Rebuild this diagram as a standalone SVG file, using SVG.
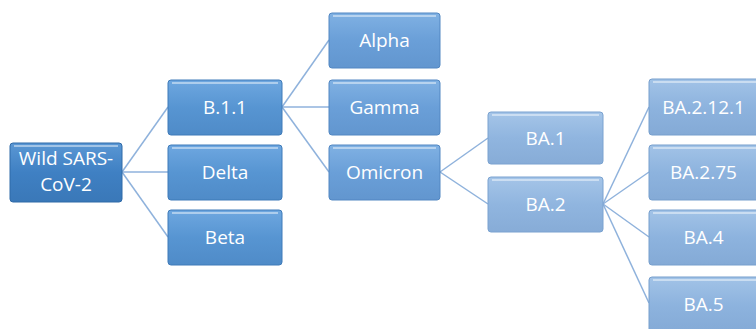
<svg xmlns="http://www.w3.org/2000/svg" width="756" height="329" viewBox="0 0 756 329">
<defs>
<linearGradient id="g0" x1="0" y1="0" x2="0" y2="1"><stop offset="0" stop-color="#5a97d4"/><stop offset="0.5" stop-color="#3f80c3"/><stop offset="1" stop-color="#3a78b8"/></linearGradient>
<linearGradient id="g1" x1="0" y1="0" x2="0" y2="1"><stop offset="0" stop-color="#6ea7e0"/><stop offset="0.5" stop-color="#5795d2"/><stop offset="1" stop-color="#4f8bc8"/></linearGradient>
<linearGradient id="g2" x1="0" y1="0" x2="0" y2="1"><stop offset="0" stop-color="#80b1e3"/><stop offset="0.5" stop-color="#6a9fd8"/><stop offset="1" stop-color="#6296cf"/></linearGradient>
<linearGradient id="g3" x1="0" y1="0" x2="0" y2="1"><stop offset="0" stop-color="#a5c5e8"/><stop offset="0.5" stop-color="#90b5df"/><stop offset="1" stop-color="#87acd7"/></linearGradient>
<linearGradient id="g4" x1="0" y1="0" x2="0" y2="1"><stop offset="0" stop-color="#a2c3e7"/><stop offset="0.5" stop-color="#8db3de"/><stop offset="1" stop-color="#84aad6"/></linearGradient>
</defs>
<style>
.box{stroke-width:1;rx:3;ry:3}
.b0{fill:url(#g0);stroke:#2f6aa8}
.b1{fill:url(#g1);stroke:#3f7bb9}
.b2{fill:url(#g2);stroke:#5287c2}
.b3{fill:url(#g3);stroke:#7aa2d0}
.b4{fill:url(#g4);stroke:#779fcd}
.hl{stroke:#ffffff;stroke-opacity:0.6;stroke-width:1.5;fill:none}
.t{font-family:"Open Sans","Liberation Sans",sans-serif;font-size:19px;fill:#ffffff;text-anchor:middle}
.c{stroke:#8fb2dc;stroke-width:1.5;fill:none}
</style>
<g id="connectors">
<line class="c" x1="122" y1="172" x2="168" y2="107"/>
<line class="c" x1="122" y1="172" x2="168" y2="172"/>
<line class="c" x1="122" y1="172" x2="168" y2="237"/>
<line class="c" x1="282" y1="107" x2="329" y2="40"/>
<line class="c" x1="282" y1="107" x2="329" y2="107"/>
<line class="c" x1="282" y1="107" x2="329" y2="172"/>
<line class="c" x1="440" y1="172" x2="488" y2="138"/>
<line class="c" x1="440" y1="172" x2="488" y2="204"/>
<line class="c" x1="603" y1="204" x2="649" y2="107"/>
<line class="c" x1="603" y1="204" x2="649" y2="172"/>
<line class="c" x1="603" y1="204" x2="649" y2="237"/>
<line class="c" x1="603" y1="204" x2="649" y2="303"/>
</g>
<g id="wild">
<rect class="box b0" x="10" y="143" width="112" height="59"/>
<line class="hl" x1="14" y1="146" x2="118" y2="146"/>
<text class="t" x="66" y="165">Wild SARS-</text>
<text class="t" x="66" y="191">CoV-2</text>
</g>
<g id="b11">
<rect class="box b1" x="168" y="80" width="114" height="55"/>
<line class="hl" x1="172" y1="83" x2="278" y2="83"/>
<text class="t" x="225" y="114">B.1.1</text>
</g>
<g id="delta">
<rect class="box b1" x="168" y="145" width="114" height="55"/>
<line class="hl" x1="172" y1="148" x2="278" y2="148"/>
<text class="t" x="225" y="179">Delta</text>
</g>
<g id="beta">
<rect class="box b1" x="168" y="210" width="114" height="55"/>
<line class="hl" x1="172" y1="213" x2="278" y2="213"/>
<text class="t" x="225" y="244">Beta</text>
</g>
<g id="alpha">
<rect class="box b2" x="329" y="13" width="111" height="55"/>
<line class="hl" x1="333" y1="16" x2="436" y2="16"/>
<text class="t" x="384.5" y="47">Alpha</text>
</g>
<g id="gamma">
<rect class="box b2" x="329" y="80" width="111" height="55"/>
<line class="hl" x1="333" y1="83" x2="436" y2="83"/>
<text class="t" x="384.5" y="114">Gamma</text>
</g>
<g id="omicron">
<rect class="box b2" x="329" y="145" width="111" height="55"/>
<line class="hl" x1="333" y1="148" x2="436" y2="148"/>
<text class="t" x="384.5" y="179">Omicron</text>
</g>
<g id="ba1">
<rect class="box b3" x="488" y="112" width="115" height="52"/>
<line class="hl" x1="492" y1="115" x2="599" y2="115"/>
<text class="t" x="545.5" y="145">BA.1</text>
</g>
<g id="ba2">
<rect class="box b3" x="488" y="177" width="115" height="55"/>
<line class="hl" x1="492" y1="180" x2="599" y2="180"/>
<text class="t" x="545.5" y="211">BA.2</text>
</g>
<g id="ba2121">
<rect class="box b4" x="649" y="79" width="113" height="56"/>
<line class="hl" x1="653" y1="82" x2="760" y2="82"/>
<text class="t" x="703.5" y="114">BA.2.12.1</text>
</g>
<g id="ba275">
<rect class="box b4" x="649" y="145" width="113" height="55"/>
<line class="hl" x1="653" y1="148" x2="760" y2="148"/>
<text class="t" x="703.5" y="179">BA.2.75</text>
</g>
<g id="ba4">
<rect class="box b4" x="649" y="210" width="113" height="55"/>
<line class="hl" x1="653" y1="213" x2="760" y2="213"/>
<text class="t" x="703.5" y="244">BA.4</text>
</g>
<g id="ba5">
<rect class="box b4" x="649" y="277" width="113" height="56"/>
<line class="hl" x1="653" y1="280" x2="760" y2="280"/>
<text class="t" x="703.5" y="311">BA.5</text>
</g>
</svg>
